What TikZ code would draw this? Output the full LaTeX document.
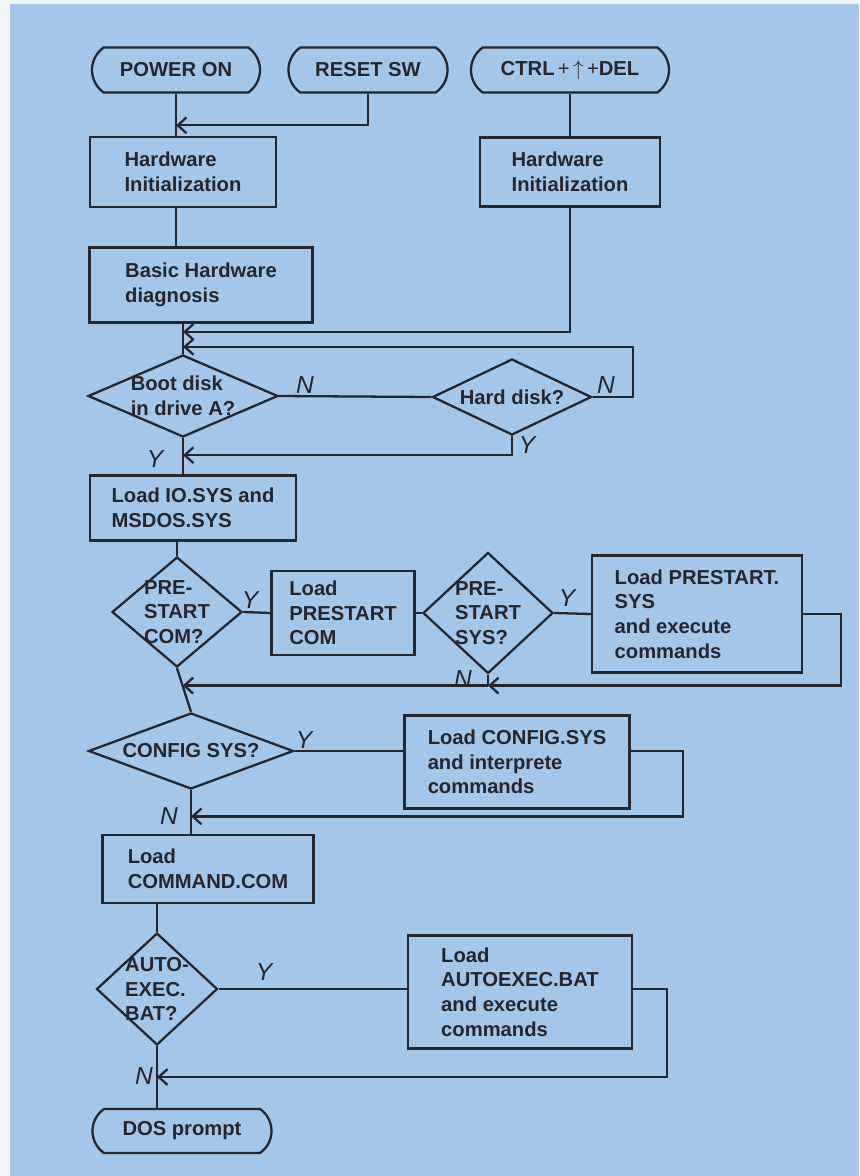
\documentclass[tikz,border=0pt]{standalone}
\usepackage{fontspec}
\setmainfont{Liberation Sans}
\usetikzlibrary{shapes.geometric,shapes.misc,arrows.meta,calc}
\definecolor{bgBlue}{RGB}{164,198,233}
\definecolor{inkGray}{RGB}{38,38,44}
\definecolor{paperWhite}{RGB}{241,243,246}
\newcommand{\BoxFont}{\fontsize{11.5}{14}\selectfont\bfseries}
\tikzset{
  boxSize/.style 2 args={minimum width=#1*0.02cm,minimum height=#2*0.02cm},
  termBox/.style={rounded rectangle,rounded rectangle arc length=110,draw=inkGray,line width=1.3pt,inner sep=0pt,font=\BoxFont,text=inkGray},
  procBox/.style={rectangle,draw=inkGray,line width=1.3pt,inner sep=0pt,align=left,font=\BoxFont,text=inkGray},
  askText/.style={align=left,font=\BoxFont,text=inkGray,inner sep=0pt},
  askBox/.style={diamond,draw=inkGray,line width=1.3pt,inner sep=0pt,label={[askText]center:#1}},
  flowLine/.style={draw=inkGray,line width=1.3pt},
  flowArrow/.style={flowLine,-{Straight Barb[length=5pt,width=9pt]}},
  ynMark/.style={font=\fontsize{14}{14}\selectfont\itshape,text=inkGray}
}

\begin{document}
\begin{tikzpicture}[x=0.02cm,y=-0.02cm]
\useasboundingbox (0,0) rectangle (859,1176);
\fill[paperWhite] (0,0) rectangle (859,1176);
\fill[bgBlue] (10,4) rectangle (859,1176);

\node[termBox,boxSize={168}{45}] (powerOn) at (176,70) {POWER ON};
\node[termBox,boxSize={159}{45}] (resetSw) at (368,70) {RESET SW};
\node[termBox,boxSize={198}{45}] (ctrlDel) at (570,70) {CTRL{\mdseries\,+\,$\uparrow$\,+}DEL};

\node[procBox,boxSize={186}{70}] (hwInitA) at (183,172) {Hardware\\Initialization};
\node[procBox,boxSize={180}{69}] (hwInitB) at (570,172) {Hardware\\Initialization};
\node[procBox,boxSize={223}{75}] (hwDiag) at (201,285) {Basic Hardware\\diagnosis};
\node[askBox={Boot disk\\in drive A?},boxSize={190}{82}] (bootA) at (183,396) {};
\node[askBox={Hard disk?},boxSize={159}{76}] (hardDisk) at (512,397) {};
\node[procBox,boxSize={206}{65}] (loadIo) at (193,508) {Load IO.SYS and\\MSDOS.SYS};
\node[askBox={PRE-\\START\\COM?},boxSize={130}{110}] (askPreCom) at (177,612) {};
\node[procBox,boxSize={143}{84}] (loadPreCom) at (343,613) {Load\\PRESTART\\COM};
\node[askBox={PRE-\\START\\SYS?},boxSize={130}{121}] (askPreSys) at (488,613) {};
\node[procBox,boxSize={210}{117}] (loadPreSys) at (697,614) {Load PRESTART.\\SYS\\and execute\\commands};
\node[askBox={CONFIG SYS?},boxSize={205}{76}] (askConfig) at (191,751) {};
\node[procBox,boxSize={225}{93}] (loadConfig) at (517,762) {Load CONFIG.SYS\\and interprete\\commands};
\node[procBox,boxSize={211}{68}] (loadCmd) at (208,869) {Load\\COMMAND.COM};
\node[askBox={AUTO-\\EXEC.\\BAT?},boxSize={121}{112}] (askAuto) at (157,989) {};
\node[procBox,boxSize={224}{113}] (loadAuto) at (520,992) {Load\\AUTOEXEC.BAT\\and execute\\commands};
\node[termBox,boxSize={179}{44}] (dosPrompt) at (182,1131) {DOS prompt};

\coordinate (preJoin) at ($(askPreCom.south)!0.4!(askConfig.north)$);
\coordinate (cfgJoin) at ($(askConfig.south)!0.6!(askConfig.south |- loadCmd.north)$);
\coordinate (autoJoin) at ($(askAuto.south)!0.5!(askAuto.south |- dosPrompt.north)$);

\draw[flowLine] (powerOn.south) -- (powerOn.south |- hwInitA.north);
\draw[flowArrow] (resetSw.south) |- ($(powerOn.south)!0.75!(powerOn.south |- hwInitA.north)$);
\draw[flowLine] (ctrlDel.south) -- (hwInitB.north);
\draw[flowLine] (powerOn.south |- hwInitA.south) -- (powerOn.south |- hwDiag.north);
\draw[flowLine] (bootA.north |- hwDiag.south) -- (bootA.north);
\draw[flowArrow] (hwInitB.south) |- ($(bootA.north)+(0,-22)$);
\draw[flowArrow] (hardDisk.east) -- ++(40,0) |- ($(bootA.north)+(0,-7)$);
\draw[flowLine] (bootA.east) -- (hardDisk.west);
\draw[flowArrow] (hardDisk.south) |- ($(bootA.south)!0.47!(bootA.south |- loadIo.north)$);
\draw[flowLine] (bootA.south) -- (bootA.south |- loadIo.north);
\draw[flowLine] (askPreCom.north |- loadIo.south) -- (askPreCom.north);
\draw[flowLine] (askPreCom.east) -- (loadPreCom.west);
\draw[flowLine] (loadPreCom.east) -- (askPreSys.west);
\draw[flowLine] (askPreSys.east) -- (loadPreSys.west);
\draw[flowLine] (askPreCom.south) -- (askConfig.north);
\draw[flowLine] (askPreSys.south) -- (askPreSys.south |- preJoin);
\draw[flowArrow] (loadPreSys.east) -- ++(38,0) |- (askPreSys.south |- preJoin);
\draw[flowArrow] (askPreSys.south |- preJoin) -- (preJoin);
\draw[flowLine] (askConfig.east) -- (askConfig.east -| loadConfig.west);
\draw[flowArrow] (askConfig.east -| loadConfig.east) -- ++(52,0) |- (cfgJoin);
\draw[flowLine] (askConfig.south) -- (askConfig.south |- loadCmd.north);
\draw[flowLine] (askAuto.north |- loadCmd.south) -- (askAuto.north);
\draw[flowLine] (askAuto.east) -- (askAuto.east -| loadAuto.west);
\draw[flowArrow] (askAuto.east -| loadAuto.east) -- ++(34,0) |- (autoJoin);
\draw[flowLine] (askAuto.south) -- (askAuto.south |- dosPrompt.north);

\node[ynMark] (bootNo) at (305,385) {N};
\node[ynMark] (hardNo) at (606,385) {N};
\node[ynMark] (hardYes) at (527,445) {Y};
\node[ynMark] (bootYes) at (155,459) {Y};
\node[ynMark] (preComYes) at (250,600) {Y};
\node[ynMark] (preSysYes) at (567,598) {Y};
\node[ynMark] (preSysNo) at (463,679) {N};
\node[ynMark] (configYes) at (304,740) {Y};
\node[ynMark] (configNo) at (169,816) {N};
\node[ynMark] (autoYes) at (264,972) {Y};
\node[ynMark] (autoNo) at (144,1076) {N};
\end{tikzpicture}
\end{document}
